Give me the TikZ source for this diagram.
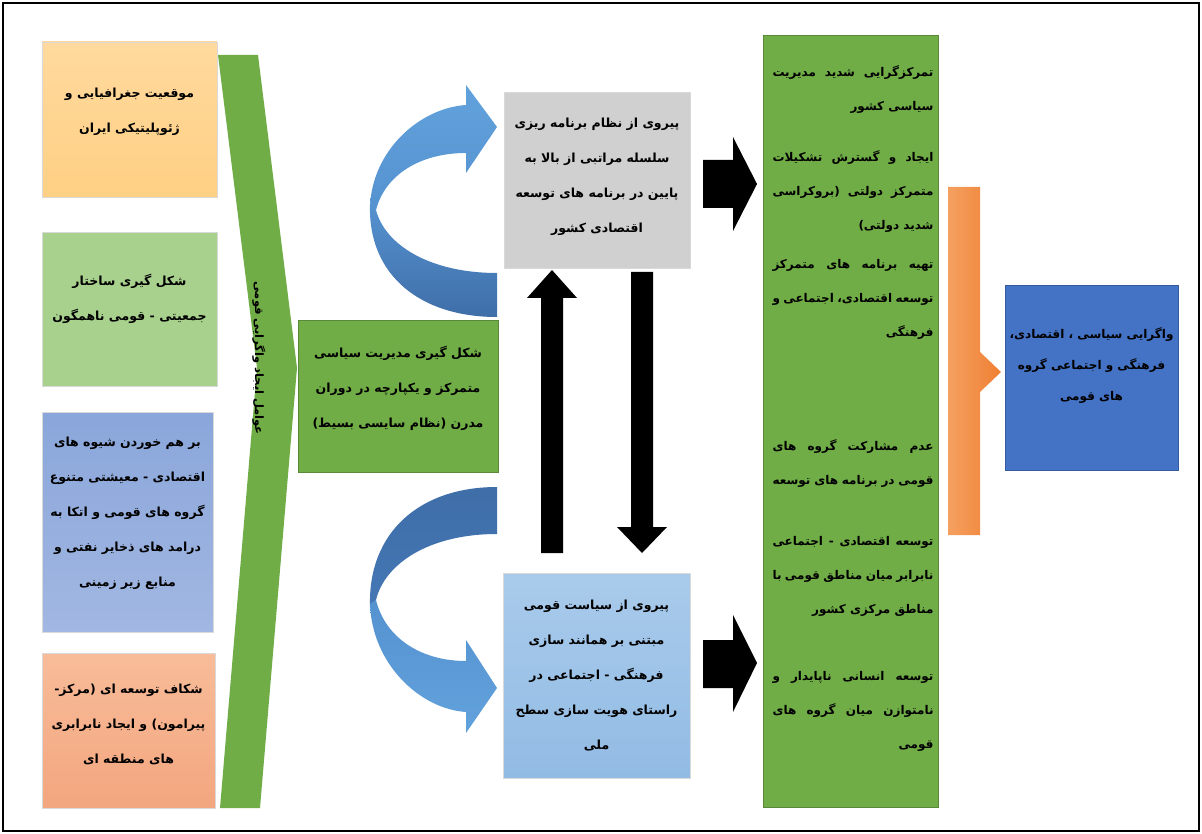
\documentclass[tikz,border=0pt]{standalone}
\usepackage{fontspec}
\newfontfamily\fa[Script=Arabic]{DejaVu Sans}
\TeXXeTstate=1
\newcommand\fl[1]{\beginR #1\endR}
\newcommand\jl[1]{\hbox to 161pt{\beginR #1\endR}}
\newcommand\rl[1]{\hbox to 161pt{\hfill\beginR #1\endR}}
\definecolor{cOrA}{HTML}{FFD99E}
\definecolor{cOrB}{HTML}{FFD084}
\definecolor{cLg}{HTML}{A9D18E}
\definecolor{cLvA}{HTML}{8AA6DA}
\definecolor{cLvB}{HTML}{A2B7E2}
\definecolor{cSaA}{HTML}{F8BC99}
\definecolor{cSaB}{HTML}{F3A67F}
\definecolor{cGr}{HTML}{70AD47}
\definecolor{cGy}{HTML}{D0D0D0}
\definecolor{cLbA}{HTML}{A9CBEB}
\definecolor{cLbB}{HTML}{92BBE4}
\definecolor{cBl}{HTML}{4472C4}
\definecolor{cOg}{HTML}{EF7F32}
\definecolor{cOgL}{HTML}{F5A060}
\definecolor{cArL}{HTML}{62A2DC}
\definecolor{cArM}{HTML}{5592D0}
\definecolor{cArD}{HTML}{4477B5}
\definecolor{cArE}{HTML}{3F6EA8}
\begin{document}
\begin{tikzpicture}[x=1pt,y=-1pt,
  box/.style={inner sep=0pt, draw=black!15, line width=0.6pt},
  txt/.style={font=\fa\bfseries\fontsize{12.5}{35}\selectfont, align=center, text=black, inner sep=0pt},
  rtxt/.style={font=\fa\bfseries\fontsize{12}{34}\selectfont, align=center, text=black, inner sep=0pt},
  blk/.style={fill=black, draw=none},
  curv/.style={draw=none}]
\useasboundingbox (0,0) rectangle (1202,834);
\fill[white] (0,0) rectangle (1202,834);
\draw[line width=1.6pt] (3,3) rectangle (1199,831);

% left boxes
\node[box, top color=cOrA, bottom color=cOrB, minimum width=175pt, minimum height=155pt] (b1) at (129.5,119.5) {};
\node[txt] (t1) at (129.5,112) {\fl{موقعیت جغرافیایی و}\\\fl{ژئوپلیتیکی ایران}};
\node[box, fill=cLg, minimum width=175pt, minimum height=154pt] (b2) at (129.5,309) {};
\node[txt] (t2) at (129.5,299) {\fl{شکل گیری ساختار}\\\fl{جمعیتی - قومی ناهمگون}};
\node[box, top color=cLvA, bottom color=cLvB, minimum width=171pt, minimum height=220pt] (b3) at (127.5,522) {};
\node[txt] (t3) at (127.5,513) {\fl{بر هم خوردن شیوه های}\\\fl{اقتصادی - معیشتی متنوع}\\\fl{گروه های قومی و اتکا به}\\\fl{درامد های ذخایر نفتی و}\\\fl{منابع زیر زمینی}};
\node[box, top color=cSaA, bottom color=cSaB, minimum width=173pt, minimum height=155pt] (b4) at (128.5,730.5) {};
\node[txt] (t4) at (128.5,724) {\fl{شکاف توسعه ای (مرکز-}\\\fl{پیرامون) و ایجاد نابرابری}\\\fl{های منطقه ای}};

% chevron
\fill[cGr] (218,55) -- (258,55) -- (297,368) -- (260,808) -- (220,808) -- (257,368) -- cycle;
\node[txt, font=\fa\bfseries\fontsize{11.5}{13}\selectfont, rotate=-90] (cv) at (259,358) {\fl{عوامل ایجاد واگرایی قومی}};

% middle green box
\node[box, fill=cGr, draw=cGr!80!black, minimum width=200pt, minimum height=152pt] (mg) at (398,396) {};
\node[txt] (tm) at (398,388) {\fl{شکل گیری مدیریت سیاسی}\\\fl{متمرکز و یکپارچه در دوران}\\\fl{مدرن (نظام سایسی بسیط)}};

% gray box
\node[box, fill=cGy, minimum width=186pt, minimum height=176pt] (gy) at (597,180) {};
\node[txt] (tg) at (597,177) {\fl{پیروی از نظام برنامه ریزی}\\\fl{سلسله مراتبی از بالا به}\\\fl{پایین در برنامه های توسعه}\\\fl{اقتصادی کشور}};

% light blue box
\node[box, top color=cLbA, bottom color=cLbB, minimum width=187pt, minimum height=205pt] (lb) at (596.5,675.5) {};
\node[txt] (tl) at (596.5,676) {\fl{پیروی از سیاست قومی}\\\fl{مبتنی بر همانند سازی}\\\fl{فرهنگی - اجتماعی در}\\\fl{راستای هویت سازی سطح}\\\fl{ملی}};

% right green box
\node[box, fill=cGr, draw=cGr!80!black, minimum width=175pt, minimum height=772pt] (rg) at (850.5,421) {};
\node[rtxt] (r1) at (853,90) {\jl{تمرکزگرایی شدید مدیریت}\\\rl{سیاسی کشور}};
\node[rtxt] (r2) at (853,192) {\jl{ایجاد و گسترش تشکیلات}\\\jl{متمرکز دولتی (بروکراسی}\\\rl{شدید دولتی)}};
\node[rtxt] (r3) at (853,299) {\jl{تهیه برنامه های متمرکز}\\\jl{توسعه اقتصادی، اجتماعی و}\\\rl{فرهنگی}};
\node[rtxt] (r4) at (853,464) {\jl{عدم مشارکت گروه های}\\\jl{قومی در برنامه های توسعه}};
\node[rtxt] (r5) at (853,576) {\jl{توسعه اقتصادی - اجتماعی}\\\jl{نابرابر میان مناطق قومی با}\\\rl{مناطق مرکزی کشور}};
\node[rtxt] (r6) at (853,711) {\jl{توسعه انسانی ناپایدار و}\\\jl{نامتوازن میان گروه های}\\\rl{قومی}};

% orange arrow
\shade[left color=cOgL, right color=cOg] (948,187) -- (980,187) -- (980,352) -- (1001,372) -- (980,392) -- (980,535) -- (948,535) -- cycle;

% blue result box
\node[box, fill=cBl, draw=cBl!80!black, minimum width=173pt, minimum height=185pt] (bl) at (1091.5,377.5) {};
\node[txt, font=\fa\bfseries\fontsize{12}{31}\selectfont] (tb) at (1091.5,366) {\fl{واگرایی سیاسی ، اقتصادی،}\\\fl{فرهنگی و اجتماعی گروه}\\\fl{های قومی}};

% black block arrows
\fill[blk] (703,160) -- (733,160) -- (733,137) -- (757,184) -- (733,231) -- (733,208) -- (703,208) -- cycle;
\fill[blk] (703,640) -- (733,640) -- (733,615) -- (757,663) -- (733,712) -- (733,688) -- (703,688) -- cycle;
\fill[blk] (541,553) -- (541,298) -- (527,298) -- (552,270) -- (577,298) -- (563,298) -- (563,553) -- cycle;
\fill[blk] (631,272) -- (653,272) -- (653,527) -- (667,527) -- (642,553) -- (617,527) -- (631,527) -- cycle;

% curved blue arrow, upper (back part, then front part with head)
\shade[curv, top color=cArM, bottom color=cArE]
  (370,205) .. controls (368,275) and (420,317) .. (497,317)
  -- (497,273)
  .. controls (430,273) and (385,245) .. (376,210) -- cycle;
\shade[curv, top color=cArL, bottom color=cArM]
  (466,105) .. controls (420,108) and (372,150) .. (370,207)
  -- (376,210)
  .. controls (385,175) and (420,153) .. (466,153)
  -- (466,173) -- (497,127) -- (466,85) -- cycle;
% curved blue arrow, lower
\shade[curv, top color=cArE, bottom color=cArD]
  (370,606) .. controls (368,532) and (420,487) .. (497,487)
  -- (497,534)
  .. controls (430,534) and (385,563) .. (376,600) -- cycle;
\shade[curv, top color=cArM, bottom color=cArL]
  (466,712) .. controls (420,709) and (372,664) .. (370,604)
  -- (376,600)
  .. controls (385,637) and (420,661) .. (466,661)
  -- (466,640) -- (497,688) -- (466,733) -- cycle;
\end{tikzpicture}
\end{document}
